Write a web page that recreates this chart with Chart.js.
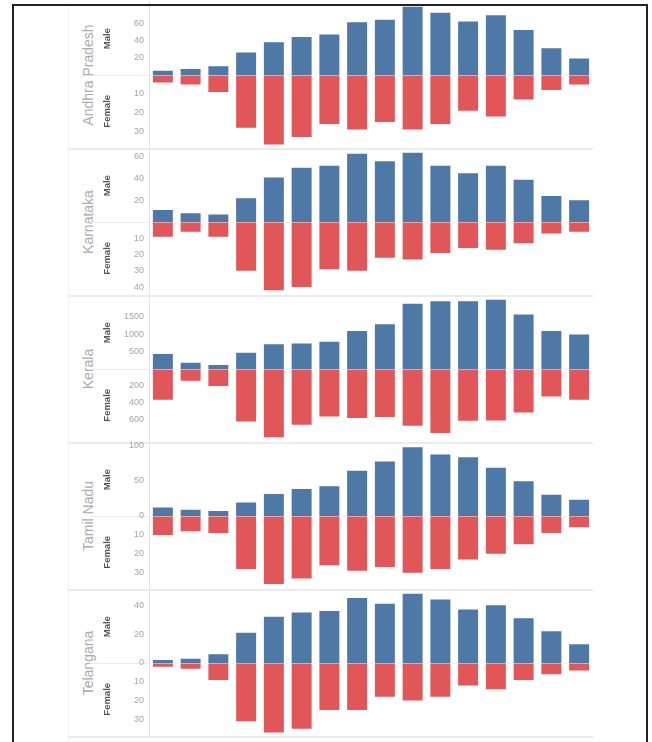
<!DOCTYPE html>
<html lang="en">
<head>
  <meta charset="UTF-8" />
  <title>Male / Female by state</title>
  <script src="https://cdn.jsdelivr.net/npm/chart.js"></script>
  <style>
    html, body { margin: 0; padding: 0; background: #fff; overflow: hidden; }
    body { width: 652px; height: 742px; position: relative; font-family: Arial, "Liberation Sans", sans-serif; }
    canvas { position: absolute; left: 100px; }
    .state {
      position: absolute; left: 88px; white-space: nowrap;
      transform: translate(-50%, -50%) rotate(-90deg);
      font-size: 14px; color: #ababab;
    }
    .hline { position: absolute; background: #ebebeb; }
    .vline { position: absolute; background: #f0f0f0; width: 1px; }
    #frame {
      position: absolute; left: 12px; top: 4px; width: 632px; height: 800px;
      border: 2px solid #222; pointer-events: none;
    }
  </style>
</head>
<body>
  <div class="vline" style="left:68px; top:6px; height:740px;"></div>
  <div id="panels"></div>
  <div id="frame"></div>

  <script>
    const ageGroups = ["0-4", "5-9", "10-14", "15-19", "20-24", "25-29", "30-34", "35-39",
                       "40-44", "45-49", "50-54", "55-59", "60-64", "65-69", "70-74", "75+"];
    const states = ["Andhra Pradesh", "Karnataka", "Kerala", "Tamil Nadu", "Telangana"];

    // values
    const apMale = [5, 7, 10, 26, 38, 44, 47, 61, 64, 79, 72, 62, 69, 52, 31, 19];
    const apFemale = [4, 5, 9, 28, 37, 33, 26, 29, 25, 29, 26, 19, 22, 13, 8, 5];
    const kaMale = [11, 8, 7, 22, 41, 50, 52, 63, 56, 64, 52, 45, 52, 39, 24, 20];
    const kaFemale = [9, 6, 9, 30, 42, 40, 29, 30, 22, 23, 19, 16, 17, 13, 7, 6];
    const klMale = [427, 180, 114, 465, 712, 732, 778, 1091, 1282, 1872, 1938, 1938, 1986, 1559, 1091, 989];
    const klFemale = [363, 137, 199, 617, 804, 655, 558, 577, 565, 667, 752, 608, 605, 511, 324, 363];
    const tnMale = [12, 9, 7, 19, 31, 38, 42, 64, 77, 97, 87, 83, 68, 49, 30, 23];
    const tnFemale = [10, 8, 9, 28, 36, 33, 26, 29, 27, 30, 28, 23, 20, 15, 9, 6];
    const tgMale = [2, 3, 6, 21, 32, 35, 36, 45, 41, 48, 44, 37, 40, 31, 22, 13];
    const tgFemale = [2, 3, 9, 31, 37, 35, 25, 25, 18, 20, 18, 12, 14, 9, 6, 4];

    const maleTicks = [[20, 40, 60], [20, 40, 60], [500, 1000, 1500], [0, 50, 100], [0, 20, 40]];
    const femaleTicks = [[10, 20, 30], [10, 20, 30, 40], [200, 400, 600], [10, 20, 30], [10, 20, 30]];
    const maleMax = [84, 67, 2080, 102.5, 50.3];
    const femaleMax = [38.6, 44.6, 854, 38.4, 38.6];

    const maleData = [apMale, kaMale, klMale, tnMale, tgMale];
    const femaleData = [apFemale, kaFemale, klFemale, tnFemale, tgFemale];

    const BLUE = "#4e79a7";
    const RED = "#e15759";
    const PANEL_TOP = 2, PANEL_STEP = 147, PANEL_H = 146, PAD = 10;

    Chart.defaults.font.family = 'Arial, "Liberation Sans", sans-serif';

    const panels = document.getElementById("panels");

    function axis(opts) {
      return Object.assign({
        type: "linear",
        position: "left",
        stack: "state",
        stackWeight: 1,
        min: 0,
        afterFit: s => { s.width = 49; },
        border: { display: true, color: "#e2e2e2" },
        ticks: {
          autoSkip: false,
          padding: 5,
          color: "#a4a4a4",
          font: { size: 9 },
          callback: v => (v === 0 && opts.hideZero) ? "" : String(v)
        }
      }, opts.scale);
    }

    states.forEach((name, i) => {
      const top = PANEL_TOP + i * PANEL_STEP;
      const base = top + PANEL_H / 2;

      const label = document.createElement("div");
      label.className = "state";
      label.style.top = base + "px";
      label.textContent = name;
      panels.appendChild(label);

      const sep = document.createElement("div");
      sep.className = "hline";
      sep.style.cssText = `left:90px; top:${base}px; width:58px; height:1px;`;
      panels.appendChild(sep);

      const div = document.createElement("div");
      div.className = "hline";
      div.style.cssText = `left:68px; top:${top + PANEL_H}px; width:525px; height:2px;`;
      panels.appendChild(div);

      const canvas = document.createElement("canvas");
      canvas.width = 493;
      canvas.height = PANEL_H + 2 * PAD;
      canvas.style.top = (top - PAD) + "px";
      panels.appendChild(canvas);

      const mTicks = maleTicks[i];
      const fTicks = [0].concat(femaleTicks[i]);

      new Chart(canvas, {
        type: "bar",
        data: {
          labels: ageGroups,
          datasets: [
            { label: "Female", data: femaleData[i], yAxisID: "yF", backgroundColor: RED,
              grouped: false, categoryPercentage: 1, barPercentage: 0.72 },
            { label: "Male", data: maleData[i], yAxisID: "yM", backgroundColor: BLUE,
              grouped: false, categoryPercentage: 1, barPercentage: 0.72 }
          ]
        },
        options: {
          responsive: false,
          animation: false,
          layout: { padding: { top: PAD, bottom: PAD, left: 0, right: 0 } },
          plugins: { legend: { display: false }, tooltip: { enabled: false } },
          scales: {
            x: { display: false },
            yF: axis({
              hideZero: true,
              scale: {
                weight: 1,
                reverse: true,
                max: femaleMax[i],
                z: 1,
                afterBuildTicks: s => { s.ticks = fTicks.map(v => ({ value: v })); },
                grid: {
                  drawTicks: false,
                  color: c => (c.tick && c.tick.value === 0) ? "#f4f4f4" : "rgba(0,0,0,0)"
                },
                title: { display: true, text: "Female", color: "#555", font: { size: 9.5, weight: "bold" }, padding: { top: 2, bottom: 0 } }
              }
            }),
            yM: axis({
              hideZero: false,
              scale: {
                weight: 2,
                max: maleMax[i],
                afterBuildTicks: s => { s.ticks = mTicks.map(v => ({ value: v })); },
                grid: { display: false, drawTicks: false },
                title: { display: true, text: "Male", color: "#555", font: { size: 9.5, weight: "bold" }, padding: { top: 2, bottom: 0 } }
              }
            })
          }
        }
      });
    });
  </script>
</body>
</html>
